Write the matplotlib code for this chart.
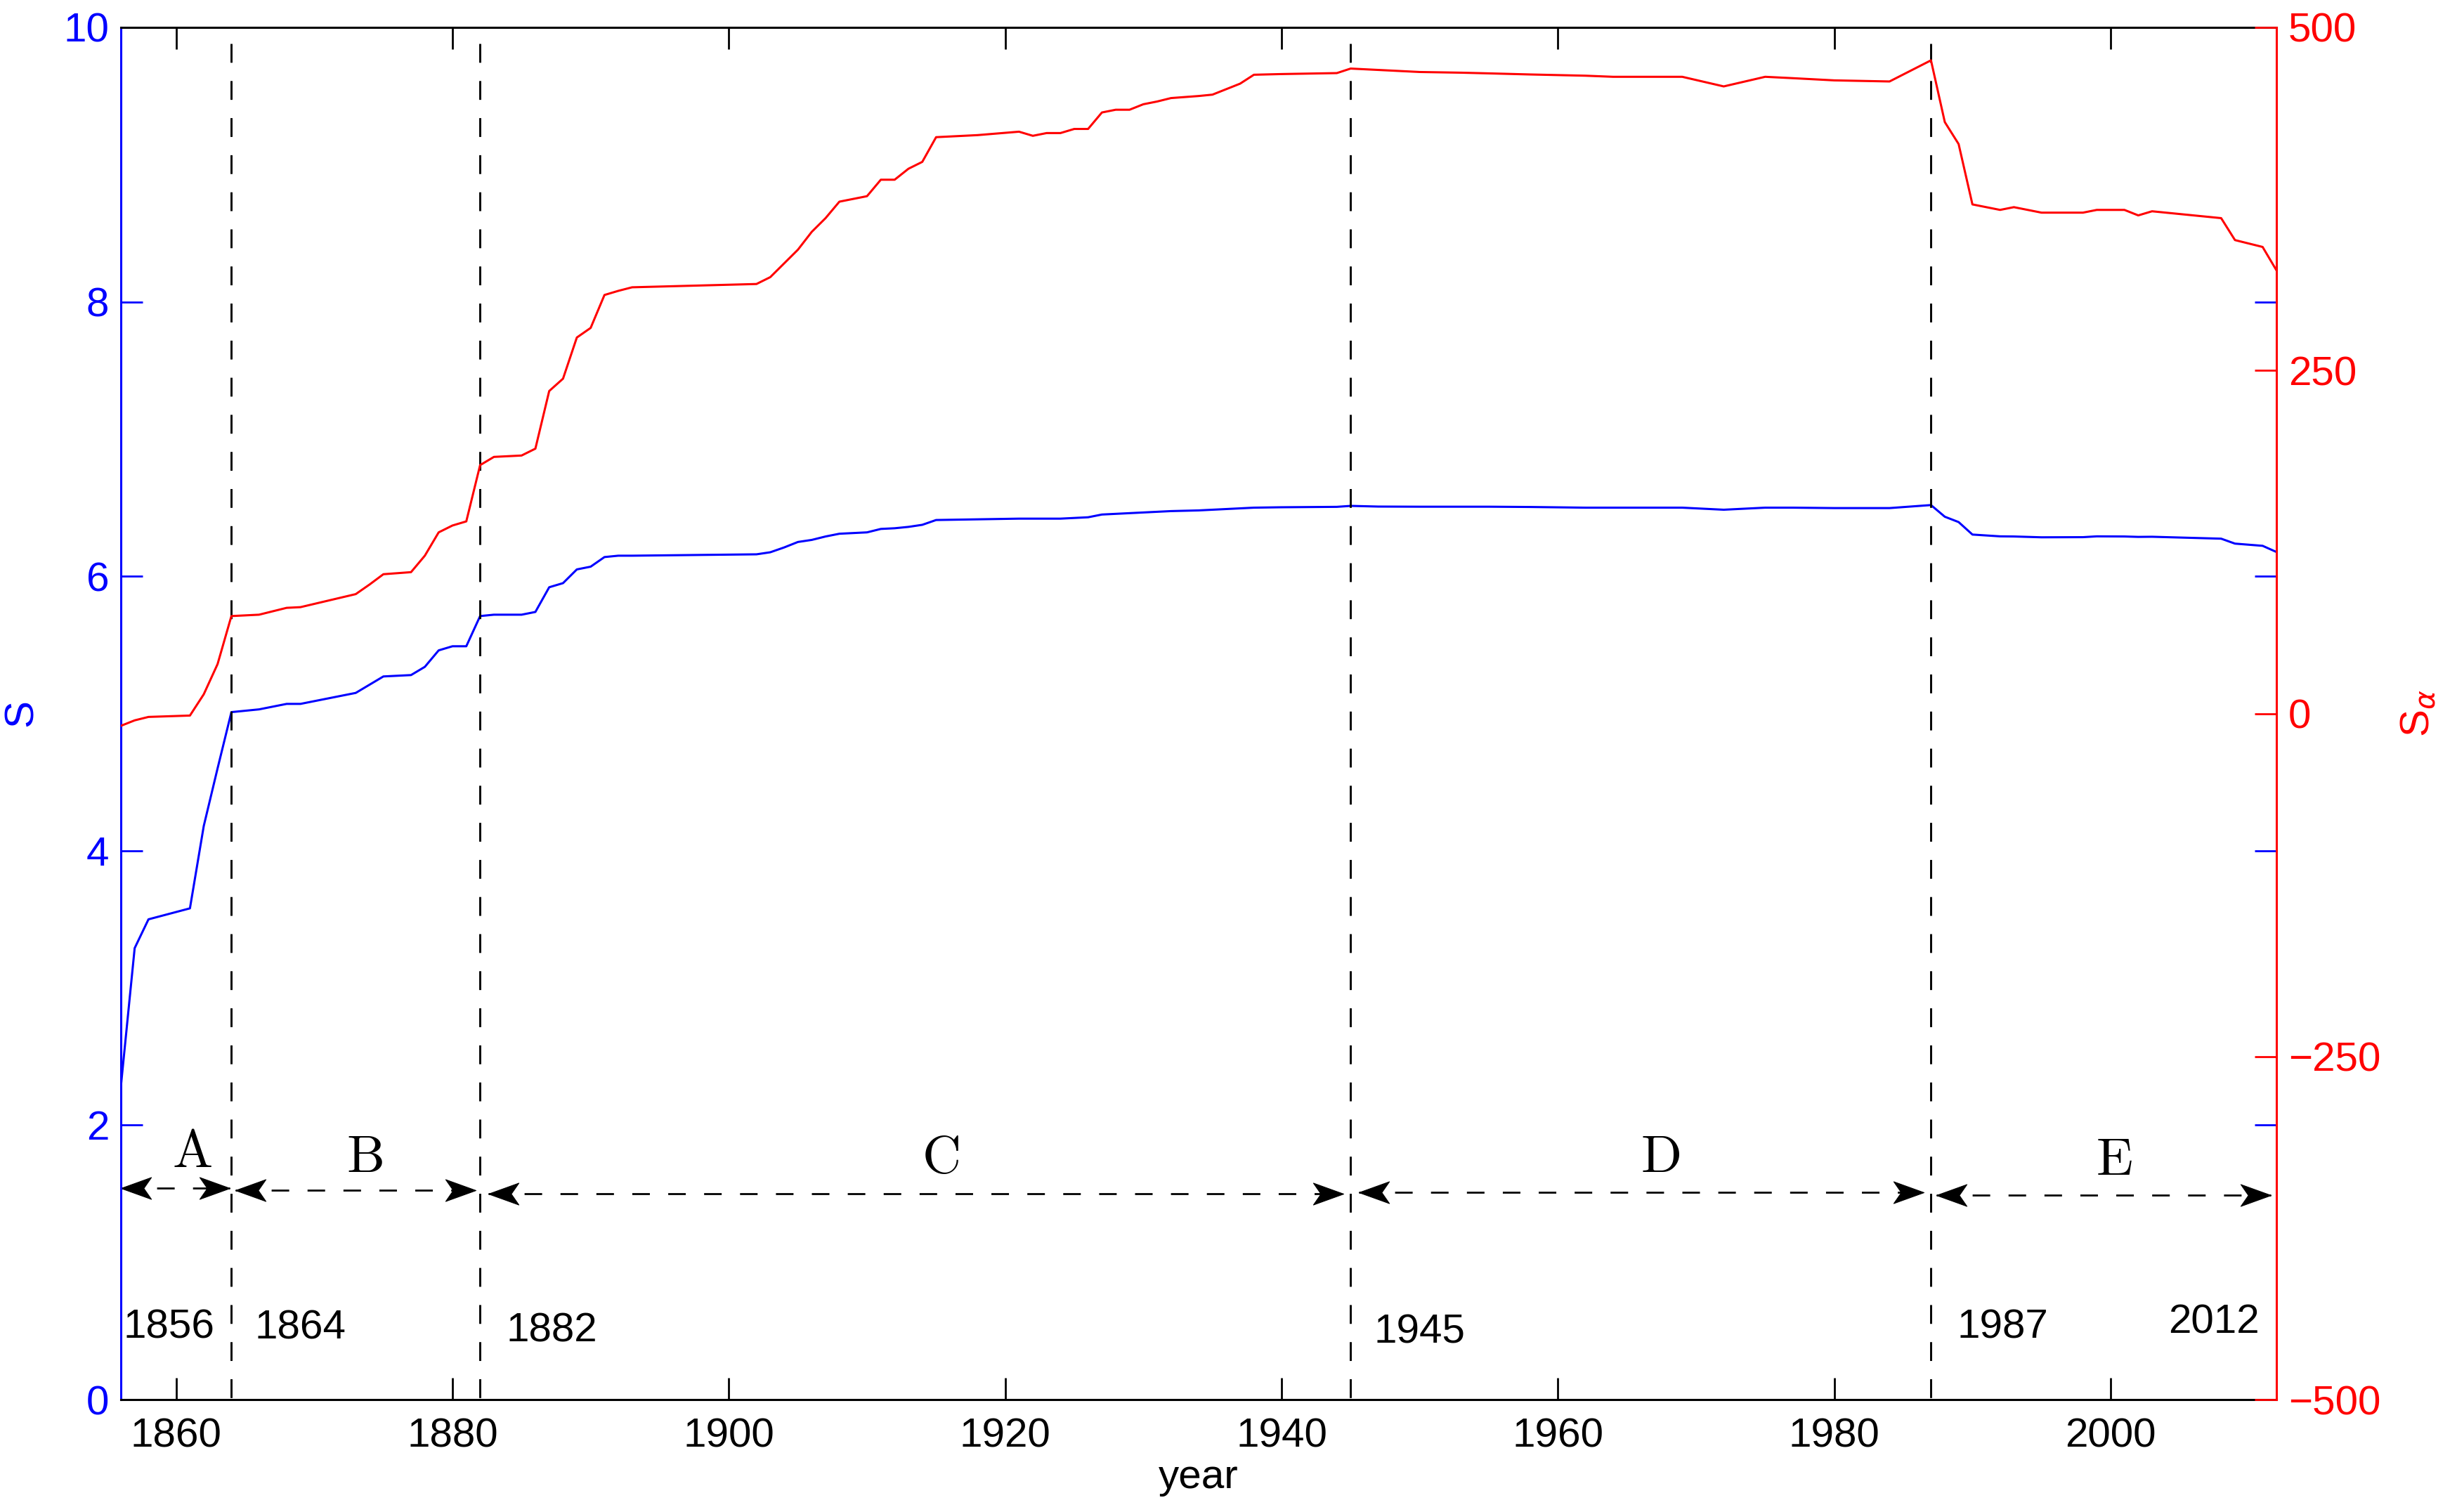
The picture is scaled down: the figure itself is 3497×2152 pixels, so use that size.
import matplotlib
matplotlib.use("Agg")
import matplotlib.pyplot as plt
from matplotlib.path import Path

plt.rcParams['font.family'] = ['Liberation Sans', 'DejaVu Sans']

# --- data ---
years = [1856, 1857, 1858, 1861, 1862, 1863, 1864, 1866, 1868, 1869,
         1873, 1874, 1875, 1877, 1878, 1879, 1880, 1881, 1882, 1883,
         1885, 1886, 1887, 1888, 1889, 1890, 1891, 1892, 1893, 1902,
         1903, 1904, 1905, 1906, 1907, 1908, 1910, 1911, 1912, 1913,
         1914, 1915, 1918, 1921, 1922, 1923, 1924, 1925, 1926, 1927,
         1928, 1929, 1930, 1931, 1932, 1934, 1935, 1936, 1937, 1938,
         1940, 1944, 1945, 1947, 1950, 1953, 1955, 1958, 1962, 1964,
         1969, 1972, 1975, 1977, 1980, 1982, 1984, 1987, 1988, 1989,
         1990, 1992, 1993, 1995, 1998, 1999, 2001, 2002, 2003, 2008,
         2009, 2011, 2012]

s_vals = [2.28, 3.29, 3.50, 3.58, 4.18, 4.60, 5.01, 5.03, 5.07, 5.07,
          5.15, 5.21, 5.27, 5.28, 5.34, 5.46, 5.49, 5.49, 5.71, 5.72,
          5.72, 5.74, 5.92, 5.95, 6.05, 6.07, 6.14, 6.15, 6.15, 6.16,
          6.175, 6.21, 6.25, 6.265, 6.29, 6.31, 6.32, 6.345, 6.35, 6.36,
          6.375, 6.41, 6.415, 6.42, 6.42, 6.42, 6.42, 6.425, 6.43, 6.45,
          6.455, 6.46, 6.465, 6.47, 6.475, 6.48, 6.485, 6.49, 6.495, 6.50,
          6.503, 6.506, 6.513, 6.508, 6.507, 6.507, 6.507, 6.505, 6.50, 6.50,
          6.50, 6.485, 6.50, 6.50, 6.497, 6.497, 6.497, 6.519, 6.434, 6.395,
          6.304, 6.291, 6.29, 6.284, 6.285, 6.291, 6.29, 6.287, 6.288, 6.274,
          6.238, 6.222, 6.177]

sa_vals = [-9, -5, -2.5, -1.5, 14, 36, 71, 72, 77, 77.5,
           87, 94, 101.5, 103, 115, 132, 137, 140, 181, 187,
           188, 193, 235, 244, 274, 281, 305, 308, 310.6, 313,
           318, 328, 338, 351, 361, 373, 377, 389, 389, 397,
           402, 420, 421.5, 424, 421, 423, 423, 426, 426, 438,
           440, 440, 444, 446, 448.5, 450, 451, 455, 459, 465.5,
           466, 466.7, 470, 469, 467.5, 467, 466.5, 465.7, 464.8, 464,
           464, 457, 464, 463, 461.4, 461, 460.6, 476, 431, 415,
           371, 367, 369, 365, 365, 367, 367, 363, 366, 361,
           345, 340, 323]

breaks = [1864, 1882, 1945, 1987]

period_names = ['A', 'B', 'C', 'D', 'E']
period_start = [1856.0, 1864.3, 1882.6, 1945.6, 1987.4]
period_end = [1863.9, 1881.7, 1944.5, 1986.5, 2011.6]
period_arrow_y = [1.54, 1.525, 1.50, 1.51, 1.49]
period_label_x = [1861.2, 1873.7, 1915.4, 1967.5, 2000.3]
period_label_y = [1.79, 1.75, 1.75, 1.75, 1.73]

year_labels = ['1856', '1864', '1882', '1945', '1987', '2012']
year_label_x = [1856.2, 1865.7, 1883.9, 1946.7, 1988.9, 2004.2]
year_label_y = [0.527, 0.518, 0.50, 0.49, 0.526, 0.56]

W, H = 3497, 2152
fig = plt.figure(figsize=(W / 200, H / 200), dpi=200)
ax = fig.add_axes([172 / W, 1 - 1992 / H, (3240 - 172) / W, (1992 - 39) / H])
ax2 = ax.twinx()

ax.plot(years, s_vals, color='blue', lw=1.1)
ax2.plot(years, sa_vals, color='red', lw=1.1)

ax.set_xlim(1856, 2012)
ax.set_ylim(0, 10)
ax2.set_ylim(-500, 500)
ax.set_xticks(range(1860, 2001, 20))
ax.set_yticks(range(0, 11, 2))
ax2.set_yticks([-500, -250, 0, 250, 500])

ax.tick_params(axis='x', direction='in', top=True, length=11, width=1,
               labelsize=21, pad=9, colors='black')
ax.tick_params(axis='y', direction='in', right=True, length=11, width=1,
               labelsize=21, pad=6, colors='blue')
ax2.tick_params(axis='y', direction='in', length=11, width=1,
                labelsize=21, pad=6, colors='red')

for sp in ['top', 'bottom']:
    ax.spines[sp].set_linewidth(1.1)
    ax.spines[sp].set_color('black')
ax.spines['left'].set_color('blue')
ax.spines['left'].set_linewidth(1.1)
ax.spines['right'].set_visible(False)
for sp in ['left', 'top', 'bottom']:
    ax2.spines[sp].set_visible(False)
ax2.spines['right'].set_color('red')
ax2.spines['right'].set_linewidth(1.1)

# period boundaries
for b in breaks:
    ax.plot([b, b], [9.88, 0], color='black', lw=1.05, ls=(0, (9.2, 8.9)))

# double arrows with notched heads
head_r = Path([(0, 0), (-1, 0.36), (-0.75, 0), (-1, -0.36), (0, 0)],
              [Path.MOVETO, Path.LINETO, Path.LINETO, Path.LINETO, Path.CLOSEPOLY])
head_l = Path([(0, 0), (1, 0.36), (0.75, 0), (1, -0.36), (0, 0)],
              [Path.MOVETO, Path.LINETO, Path.LINETO, Path.LINETO, Path.CLOSEPOLY])
for x0, x1, y in zip(period_start, period_end, period_arrow_y):
    ax.plot([x0, x1], [y, y], color='black', lw=1.0, ls=(0, (9, 9.4)),
            clip_on=False)
    ax.plot([x0], [y], marker=head_l, ms=31, color='black', mec='black',
            mew=0.4, clip_on=False, ls='none')
    ax.plot([x1], [y], marker=head_r, ms=31, color='black', mec='black',
            mew=0.4, clip_on=False, ls='none')

for name, x, y in zip(period_names, period_label_x, period_label_y):
    ax.text(x, y, name, fontfamily='cmr10', fontsize=27.5, ha='center',
            va='center', color='black')

for lab, x, y in zip(year_labels, year_label_x, year_label_y):
    ax.text(x, y, lab, fontsize=21, ha='left', va='center', color='black')

fig.text(31 / W, 1 - 1015 / H, 'S', rotation=90, ha='center', va='center',
         fontsize=21, color='blue')
fig.text(3442 / W, 1 - 1015 / H, r'S$_\alpha$', rotation=90, ha='center',
         va='center', fontsize=21, color='red')
fig.text(1706 / W, 1 - 2103 / H, 'year', ha='center', va='center',
         fontsize=21, color='black')

fig.savefig('out.png', dpi=200)
